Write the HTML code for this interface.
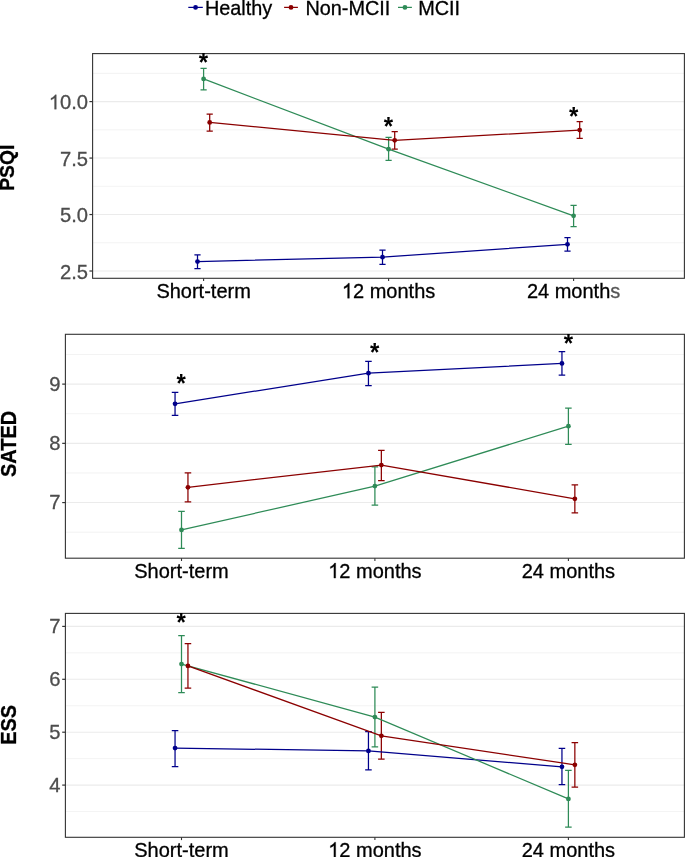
<!DOCTYPE html><html><head><meta charset="utf-8"><style>html,body{margin:0;padding:0;background:#fff;}svg{display:block;will-change:transform;}text{font-family:"Liberation Sans",sans-serif;}.r{stroke-width:0.3px;}</style></head><body>
<svg width="685" height="857" viewBox="0 0 685 857">
<rect width="685" height="857" fill="#fff"/>
<g font-size="19.85" fill="#000">
<line x1="188.3" y1="7.4" x2="202.8" y2="7.4" stroke="#00008B" stroke-width="1.25"/>
<circle cx="195.55" cy="7.4" r="2.4" fill="#00008B"/>
<text transform="translate(204.9,14.8) scale(1,1.045)" stroke="#000" class="r">Healthy</text>
<line x1="284.1" y1="7.4" x2="297.9" y2="7.4" stroke="#8B0000" stroke-width="1.25"/>
<circle cx="291" cy="7.4" r="2.4" fill="#8B0000"/>
<text transform="translate(305.4,14.8) scale(1,1.045)" stroke="#000" class="r">Non-MCII</text>
<line x1="398" y1="7.4" x2="411.9" y2="7.4" stroke="#2E8B57" stroke-width="1.25"/>
<circle cx="404.95" cy="7.4" r="2.4" fill="#2E8B57"/>
<text transform="translate(418.2,14.8) scale(1,1.045)" stroke="#000" class="r">MCII</text>
</g>
<line x1="92.6" y1="242.78" x2="684.4" y2="242.78" stroke="#ebebeb" stroke-width="0.6"/>
<line x1="92.6" y1="186.31" x2="684.4" y2="186.31" stroke="#ebebeb" stroke-width="0.6"/>
<line x1="92.6" y1="129.84" x2="684.4" y2="129.84" stroke="#ebebeb" stroke-width="0.6"/>
<line x1="92.6" y1="73.36" x2="684.4" y2="73.36" stroke="#ebebeb" stroke-width="0.6"/>
<line x1="92.6" y1="271.01" x2="684.4" y2="271.01" stroke="#ebebeb" stroke-width="1.1"/>
<line x1="92.6" y1="214.54" x2="684.4" y2="214.54" stroke="#ebebeb" stroke-width="1.1"/>
<line x1="92.6" y1="158.07" x2="684.4" y2="158.07" stroke="#ebebeb" stroke-width="1.1"/>
<line x1="92.6" y1="101.6" x2="684.4" y2="101.6" stroke="#ebebeb" stroke-width="1.1"/>
<line x1="89.4" y1="271.01" x2="92.6" y2="271.01" stroke="#333" stroke-width="1.2"/>
<text transform="translate(88.1,278.61) scale(1,1.0)" font-size="20.2" fill="#4d4d4d" stroke="#4d4d4d" class="r" text-anchor="end">2.5</text>
<line x1="89.4" y1="214.54" x2="92.6" y2="214.54" stroke="#333" stroke-width="1.2"/>
<text transform="translate(88.1,222.14) scale(1,1.0)" font-size="20.2" fill="#4d4d4d" stroke="#4d4d4d" class="r" text-anchor="end">5.0</text>
<line x1="89.4" y1="158.07" x2="92.6" y2="158.07" stroke="#333" stroke-width="1.2"/>
<text transform="translate(88.1,165.67) scale(1,1.0)" font-size="20.2" fill="#4d4d4d" stroke="#4d4d4d" class="r" text-anchor="end">7.5</text>
<line x1="89.4" y1="101.6" x2="92.6" y2="101.6" stroke="#333" stroke-width="1.2"/>
<path transform="translate(48.78,109.2) scale(0.009863,-0.009863)" d="M763 0L583 0L583 1147Q518 1085 416 1025.5Q314 966 223 932L223 1106Q387 1183 499 1282.5Q611 1382 653 1466L763 1466Z" fill="#4d4d4d" stroke="#4d4d4d" stroke-width="30.4"/>
<text transform="translate(88.1,109.2) scale(1,1.0)" font-size="20.2" fill="#4d4d4d" stroke="#4d4d4d" class="r" text-anchor="end">0.0</text>
<line x1="203.6" y1="278.3" x2="203.6" y2="281.1" stroke="#333" stroke-width="1.1"/>
<text transform="translate(203.6,298.2) scale(1,1.05)" font-size="20" fill="#000" stroke="#000" class="r" text-anchor="middle">Short-term</text>
<line x1="388.6" y1="278.3" x2="388.6" y2="281.1" stroke="#333" stroke-width="1.1"/>
<path transform="translate(341.91,298.2) scale(0.009766,-0.010254)" d="M763 0L583 0L583 1147Q518 1085 416 1025.5Q314 966 223 932L223 1106Q387 1183 499 1282.5Q611 1382 653 1466L763 1466Z" fill="#000" stroke="#000" stroke-width="30.7"/>
<text transform="translate(353.03,298.2) scale(1,1.05)" font-size="20" fill="#000" stroke="#000" class="r">2 months</text>
<line x1="573.6" y1="278.3" x2="573.6" y2="281.1" stroke="#333" stroke-width="1.1"/>
<text transform="translate(573.6,298.2) scale(1,1.05)" font-size="20" fill="#000" stroke="#000" class="r" text-anchor="middle">24 month<tspan fill="#555" stroke="#555">s</tspan></text>
<text transform="translate(14.4,167.75) rotate(-90) scale(1,1)" font-size="19.3" font-weight="bold" stroke="#000" class="r" text-anchor="middle" fill="#000">PSQI</text>
<path d="M194.4 254.8H200.6M194.4 268.6H200.6M197.5 254.8V268.6" stroke="#00008B" stroke-width="1.25" fill="none"/>
<path d="M379.4 250H385.6M379.4 264.4H385.6M382.5 250V264.4" stroke="#00008B" stroke-width="1.25" fill="none"/>
<path d="M564.4 237.5H570.6M564.4 251.1H570.6M567.5 237.5V251.1" stroke="#00008B" stroke-width="1.25" fill="none"/>
<path d="M200.5 68.3H206.7M200.5 89.9H206.7M203.6 68.3V89.9" stroke="#2E8B57" stroke-width="1.25" fill="none"/>
<path d="M385.5 137.4H391.7M385.5 160.3H391.7M388.6 137.4V160.3" stroke="#2E8B57" stroke-width="1.25" fill="none"/>
<path d="M570.5 205.3H576.7M570.5 226.6H576.7M573.6 205.3V226.6" stroke="#2E8B57" stroke-width="1.25" fill="none"/>
<path d="M206.6 114H212.8M206.6 131H212.8M209.7 114V131" stroke="#8B0000" stroke-width="1.25" fill="none"/>
<path d="M391.6 131.7H397.8M391.6 149.2H397.8M394.7 131.7V149.2" stroke="#8B0000" stroke-width="1.25" fill="none"/>
<path d="M576.6 121.5H582.8M576.6 138.4H582.8M579.7 121.5V138.4" stroke="#8B0000" stroke-width="1.25" fill="none"/>
<polyline points="197.5,261.6 382.5,257.15 567.5,244.3" stroke="#00008B" stroke-width="1.25" fill="none"/>
<polyline points="203.6,78.9 388.6,149.2 573.6,215.8" stroke="#2E8B57" stroke-width="1.25" fill="none"/>
<polyline points="209.7,122.4 394.7,140.3 579.7,130.07" stroke="#8B0000" stroke-width="1.25" fill="none"/>
<circle cx="197.5" cy="261.6" r="2.4" fill="#00008B"/>
<circle cx="382.5" cy="257.15" r="2.4" fill="#00008B"/>
<circle cx="567.5" cy="244.3" r="2.4" fill="#00008B"/>
<circle cx="203.6" cy="78.9" r="2.4" fill="#2E8B57"/>
<circle cx="388.6" cy="149.2" r="2.4" fill="#2E8B57"/>
<circle cx="573.6" cy="215.8" r="2.4" fill="#2E8B57"/>
<circle cx="209.7" cy="122.4" r="2.4" fill="#8B0000"/>
<circle cx="394.7" cy="140.3" r="2.4" fill="#8B0000"/>
<circle cx="579.7" cy="130.07" r="2.4" fill="#8B0000"/>
<rect x="92.6" y="53.6" width="591.8" height="224.7" fill="none" stroke="#333" stroke-width="1.1"/>
<text transform="translate(203.35,62.9) scale(1,1.04)" x="0" y="7.7" font-size="24" font-weight="bold" text-anchor="middle" fill="#000">*</text>
<text transform="translate(388.45,126.8) scale(1,1.04)" x="0" y="7.7" font-size="24" font-weight="bold" text-anchor="middle" fill="#000">*</text>
<text transform="translate(573.6,116.6) scale(1,1.04)" x="0" y="7.7" font-size="24" font-weight="bold" text-anchor="middle" fill="#000">*</text>
<line x1="65.4" y1="532.19" x2="684.4" y2="532.19" stroke="#ebebeb" stroke-width="0.6"/>
<line x1="65.4" y1="472.96" x2="684.4" y2="472.96" stroke="#ebebeb" stroke-width="0.6"/>
<line x1="65.4" y1="413.73" x2="684.4" y2="413.73" stroke="#ebebeb" stroke-width="0.6"/>
<line x1="65.4" y1="354.5" x2="684.4" y2="354.5" stroke="#ebebeb" stroke-width="0.6"/>
<line x1="65.4" y1="502.57" x2="684.4" y2="502.57" stroke="#ebebeb" stroke-width="1.1"/>
<line x1="65.4" y1="443.35" x2="684.4" y2="443.35" stroke="#ebebeb" stroke-width="1.1"/>
<line x1="65.4" y1="384.12" x2="684.4" y2="384.12" stroke="#ebebeb" stroke-width="1.1"/>
<line x1="62.2" y1="502.57" x2="65.4" y2="502.57" stroke="#333" stroke-width="1.2"/>
<text transform="translate(60.55,509.17) scale(1,1.0)" font-size="20.2" fill="#4d4d4d" stroke="#4d4d4d" class="r" text-anchor="end">7</text>
<line x1="62.2" y1="443.35" x2="65.4" y2="443.35" stroke="#333" stroke-width="1.2"/>
<text transform="translate(60.55,449.94) scale(1,1.0)" font-size="20.2" fill="#4d4d4d" stroke="#4d4d4d" class="r" text-anchor="end">8</text>
<line x1="62.2" y1="384.12" x2="65.4" y2="384.12" stroke="#333" stroke-width="1.2"/>
<text transform="translate(60.55,390.71) scale(1,1.0)" font-size="20.2" fill="#4d4d4d" stroke="#4d4d4d" class="r" text-anchor="end">9</text>
<line x1="181.5" y1="558.2" x2="181.5" y2="561" stroke="#333" stroke-width="1.1"/>
<text transform="translate(181.5,578.1) scale(1,1.05)" font-size="20" fill="#000" stroke="#000" class="r" text-anchor="middle">Short-term</text>
<line x1="374.9" y1="558.2" x2="374.9" y2="561" stroke="#333" stroke-width="1.1"/>
<path transform="translate(328.21,578.1) scale(0.009766,-0.010254)" d="M763 0L583 0L583 1147Q518 1085 416 1025.5Q314 966 223 932L223 1106Q387 1183 499 1282.5Q611 1382 653 1466L763 1466Z" fill="#000" stroke="#000" stroke-width="30.7"/>
<text transform="translate(339.33,578.1) scale(1,1.05)" font-size="20" fill="#000" stroke="#000" class="r">2 months</text>
<line x1="568.4" y1="558.2" x2="568.4" y2="561" stroke="#333" stroke-width="1.1"/>
<text transform="translate(568.4,578.1) scale(1,1.05)" font-size="20" fill="#000" stroke="#000" class="r" text-anchor="middle">24 months</text>
<text transform="translate(15.5,443.85) rotate(-90) scale(1,1.06)" font-size="20" font-weight="bold" stroke="#000" class="r" text-anchor="middle" fill="#000">SATED</text>
<path d="M171.78 392.4H178.33M171.78 415.4H178.33M175.05 392.4V415.4" stroke="#00008B" stroke-width="1.25" fill="none"/>
<path d="M365.18 361.3H371.72M365.18 385.5H371.72M368.45 361.3V385.5" stroke="#00008B" stroke-width="1.25" fill="none"/>
<path d="M558.67 351.6H565.22M558.67 375H565.22M561.95 351.6V375" stroke="#00008B" stroke-width="1.25" fill="none"/>
<path d="M178.22 511.4H184.78M178.22 548.3H184.78M181.5 511.4V548.3" stroke="#2E8B57" stroke-width="1.25" fill="none"/>
<path d="M371.62 466.8H378.17M371.62 505.1H378.17M374.9 466.8V505.1" stroke="#2E8B57" stroke-width="1.25" fill="none"/>
<path d="M565.12 408H571.67M565.12 444.4H571.67M568.4 408V444.4" stroke="#2E8B57" stroke-width="1.25" fill="none"/>
<path d="M184.67 472.9H191.22M184.67 501.8H191.22M187.95 472.9V501.8" stroke="#8B0000" stroke-width="1.25" fill="none"/>
<path d="M378.07 450.3H384.62M378.07 480.5H384.62M381.35 450.3V480.5" stroke="#8B0000" stroke-width="1.25" fill="none"/>
<path d="M571.58 484.8H578.12M571.58 512.9H578.12M574.85 484.8V512.9" stroke="#8B0000" stroke-width="1.25" fill="none"/>
<polyline points="175.05,403.8 368.45,373.2 561.95,363.4" stroke="#00008B" stroke-width="1.25" fill="none"/>
<polyline points="181.5,529.9 374.9,486.1 568.4,426.2" stroke="#2E8B57" stroke-width="1.25" fill="none"/>
<polyline points="187.95,487.3 381.35,465.1 574.85,498.8" stroke="#8B0000" stroke-width="1.25" fill="none"/>
<circle cx="175.05" cy="403.8" r="2.4" fill="#00008B"/>
<circle cx="368.45" cy="373.2" r="2.4" fill="#00008B"/>
<circle cx="561.95" cy="363.4" r="2.4" fill="#00008B"/>
<circle cx="181.5" cy="529.9" r="2.4" fill="#2E8B57"/>
<circle cx="374.9" cy="486.1" r="2.4" fill="#2E8B57"/>
<circle cx="568.4" cy="426.2" r="2.4" fill="#2E8B57"/>
<circle cx="187.95" cy="487.3" r="2.4" fill="#8B0000"/>
<circle cx="381.35" cy="465.1" r="2.4" fill="#8B0000"/>
<circle cx="574.85" cy="498.8" r="2.4" fill="#8B0000"/>
<rect x="65.4" y="334.3" width="619" height="223.9" fill="none" stroke="#333" stroke-width="1.1"/>
<text transform="translate(181.05,384) scale(1,1.04)" x="0" y="7.7" font-size="24" font-weight="bold" text-anchor="middle" fill="#000">*</text>
<text transform="translate(374.7,352.9) scale(1,1.04)" x="0" y="7.7" font-size="24" font-weight="bold" text-anchor="middle" fill="#000">*</text>
<text transform="translate(568.35,343.5) scale(1,1.04)" x="0" y="7.7" font-size="24" font-weight="bold" text-anchor="middle" fill="#000">*</text>
<line x1="65.4" y1="811.55" x2="684.4" y2="811.55" stroke="#ebebeb" stroke-width="0.6"/>
<line x1="65.4" y1="758.65" x2="684.4" y2="758.65" stroke="#ebebeb" stroke-width="0.6"/>
<line x1="65.4" y1="705.75" x2="684.4" y2="705.75" stroke="#ebebeb" stroke-width="0.6"/>
<line x1="65.4" y1="652.85" x2="684.4" y2="652.85" stroke="#ebebeb" stroke-width="0.6"/>
<line x1="65.4" y1="785.1" x2="684.4" y2="785.1" stroke="#ebebeb" stroke-width="1.1"/>
<line x1="65.4" y1="732.2" x2="684.4" y2="732.2" stroke="#ebebeb" stroke-width="1.1"/>
<line x1="65.4" y1="679.3" x2="684.4" y2="679.3" stroke="#ebebeb" stroke-width="1.1"/>
<line x1="65.4" y1="626.4" x2="684.4" y2="626.4" stroke="#ebebeb" stroke-width="1.1"/>
<line x1="62.2" y1="785.1" x2="65.4" y2="785.1" stroke="#333" stroke-width="1.2"/>
<text transform="translate(60.55,791.7) scale(1,1.0)" font-size="20.2" fill="#4d4d4d" stroke="#4d4d4d" class="r" text-anchor="end">4</text>
<line x1="62.2" y1="732.2" x2="65.4" y2="732.2" stroke="#333" stroke-width="1.2"/>
<text transform="translate(60.55,738.8) scale(1,1.0)" font-size="20.2" fill="#4d4d4d" stroke="#4d4d4d" class="r" text-anchor="end">5</text>
<line x1="62.2" y1="679.3" x2="65.4" y2="679.3" stroke="#333" stroke-width="1.2"/>
<text transform="translate(60.55,685.9) scale(1,1.0)" font-size="20.2" fill="#4d4d4d" stroke="#4d4d4d" class="r" text-anchor="end">6</text>
<line x1="62.2" y1="626.4" x2="65.4" y2="626.4" stroke="#333" stroke-width="1.2"/>
<text transform="translate(60.55,633) scale(1,1.0)" font-size="20.2" fill="#4d4d4d" stroke="#4d4d4d" class="r" text-anchor="end">7</text>
<line x1="181.5" y1="837.3" x2="181.5" y2="840.1" stroke="#333" stroke-width="1.1"/>
<text transform="translate(181.5,857.2) scale(1,1.05)" font-size="20" fill="#000" stroke="#000" class="r" text-anchor="middle">Short-term</text>
<line x1="374.9" y1="837.3" x2="374.9" y2="840.1" stroke="#333" stroke-width="1.1"/>
<path transform="translate(328.21,857.2) scale(0.009766,-0.010254)" d="M763 0L583 0L583 1147Q518 1085 416 1025.5Q314 966 223 932L223 1106Q387 1183 499 1282.5Q611 1382 653 1466L763 1466Z" fill="#000" stroke="#000" stroke-width="30.7"/>
<text transform="translate(339.33,857.2) scale(1,1.05)" font-size="20" fill="#000" stroke="#000" class="r">2 months</text>
<line x1="568.4" y1="837.3" x2="568.4" y2="840.1" stroke="#333" stroke-width="1.1"/>
<text transform="translate(568.4,857.2) scale(1,1.05)" font-size="20" fill="#000" stroke="#000" class="r" text-anchor="middle">24 months</text>
<text transform="translate(15.5,724.85) rotate(-90) scale(1,1.06)" font-size="20" font-weight="bold" stroke="#000" class="r" text-anchor="middle" fill="#000">ESS</text>
<path d="M171.78 730.5H178.33M171.78 766.5H178.33M175.05 730.5V766.5" stroke="#00008B" stroke-width="1.25" fill="none"/>
<path d="M365.18 731.6H371.72M365.18 769.9H371.72M368.45 731.6V769.9" stroke="#00008B" stroke-width="1.25" fill="none"/>
<path d="M558.67 748.3H565.22M558.67 784.5H565.22M561.95 748.3V784.5" stroke="#00008B" stroke-width="1.25" fill="none"/>
<path d="M178.22 635.5H184.78M178.22 692.5H184.78M181.5 635.5V692.5" stroke="#2E8B57" stroke-width="1.25" fill="none"/>
<path d="M371.62 687.2H378.17M371.62 746.8H378.17M374.9 687.2V746.8" stroke="#2E8B57" stroke-width="1.25" fill="none"/>
<path d="M565.12 770.3H571.67M565.12 827.1H571.67M568.4 770.3V827.1" stroke="#2E8B57" stroke-width="1.25" fill="none"/>
<path d="M184.67 643.7H191.22M184.67 688H191.22M187.95 643.7V688" stroke="#8B0000" stroke-width="1.25" fill="none"/>
<path d="M378.07 712.4H384.62M378.07 759H384.62M381.35 712.4V759" stroke="#8B0000" stroke-width="1.25" fill="none"/>
<path d="M571.58 742.6H578.12M571.58 787H578.12M574.85 742.6V787" stroke="#8B0000" stroke-width="1.25" fill="none"/>
<polyline points="175.05,748.1 368.45,750.9 561.95,766.8" stroke="#00008B" stroke-width="1.25" fill="none"/>
<polyline points="181.5,664.1 374.9,717.1 568.4,798.9" stroke="#2E8B57" stroke-width="1.25" fill="none"/>
<polyline points="187.95,665.9 381.35,735.8 574.85,764.8" stroke="#8B0000" stroke-width="1.25" fill="none"/>
<circle cx="175.05" cy="748.1" r="2.4" fill="#00008B"/>
<circle cx="368.45" cy="750.9" r="2.4" fill="#00008B"/>
<circle cx="561.95" cy="766.8" r="2.4" fill="#00008B"/>
<circle cx="181.5" cy="664.1" r="2.4" fill="#2E8B57"/>
<circle cx="374.9" cy="717.1" r="2.4" fill="#2E8B57"/>
<circle cx="568.4" cy="798.9" r="2.4" fill="#2E8B57"/>
<circle cx="187.95" cy="665.9" r="2.4" fill="#8B0000"/>
<circle cx="381.35" cy="735.8" r="2.4" fill="#8B0000"/>
<circle cx="574.85" cy="764.8" r="2.4" fill="#8B0000"/>
<rect x="65.4" y="613.4" width="619" height="223.9" fill="none" stroke="#333" stroke-width="1.1"/>
<text transform="translate(181.2,622.5) scale(1,1.04)" x="0" y="7.7" font-size="24" font-weight="bold" text-anchor="middle" fill="#000">*</text>
</svg></body></html>
